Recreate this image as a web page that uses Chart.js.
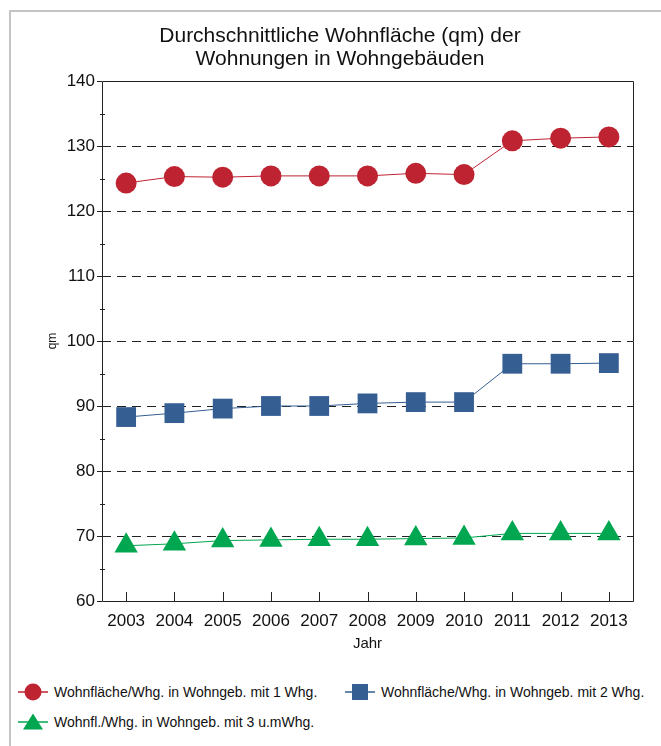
<!DOCTYPE html>
<html>
<head>
<meta charset="utf-8">
<script src="https://cdn.jsdelivr.net/npm/chart.js@4.4.1/dist/chart.umd.min.js"></script>
<style>
  html, body { margin: 0; padding: 0; background: #fff; width: 661px; height: 746px; overflow: hidden; font-family: "Liberation Sans", Arial, sans-serif; }
  #frame { position: absolute; left: 9px; top: 10px; width: 700px; height: 800px; border-left: 2px solid #c4c4c4; border-top: 2px solid #c4c4c4; box-sizing: border-box; }
  #wrap { position: absolute; left: 0; top: 0; width: 661px; height: 660px; }
  #title { position: absolute; left: 140px; width: 400px; top: 23px; text-align: center; font-size: 21px; line-height: 23px; color: #111; }
  .leg { position: absolute; display: flex; align-items: center; font-size: 14px; color: #111; white-space: nowrap; height: 20px; }
  .leg svg { margin-right: 6px; }
</style>
</head>
<body>
<div id="frame"></div>
<div id="wrap"><canvas id="c"></canvas></div>
<div id="title"></div>
<div id="legend"></div>
<script>
const years = ['2003','2004','2005','2006','2007','2008','2009','2010','2011','2012','2013'];
const seriesNames = [
  'Wohnfläche/Whg. in Wohngeb. mit 1 Whg.',
  'Wohnfläche/Whg. in Wohngeb. mit 2 Whg.',
  'Wohnfl./Whg. in Wohngeb. mit 3 u.mWhg.'
];
const oneFamily   = [124.3, 125.3, 125.2, 125.4, 125.4, 125.4, 125.8, 125.6, 130.8, 131.2, 131.4];
const twoFamily   = [88.3, 88.9, 89.6, 90.0, 90.0, 90.4, 90.6, 90.6, 96.5, 96.5, 96.6];
const multiFamily = [68.5, 68.8, 69.3, 69.4, 69.5, 69.5, 69.6, 69.7, 70.4, 70.4, 70.4];
const yTicks = [60, 70, 80, 90, 100, 110, 120, 130, 140];
const yMinorTicks = [65, 75, 85, 95, 105, 115, 125, 135];

const colors = ['#BE2331', '#355E92', '#00A650'];
const styles = ['circle', 'rect', 'triangle'];
const radii = [10.5, 14, 13.5];

const titleLines = ['Durchschnittliche Wohnfläche (qm) der', 'Wohnungen in Wohngebäuden'];
document.getElementById('title').innerHTML = titleLines.map(t => `<div>${t}</div>`).join('');

const FONT = '"Liberation Sans", Arial, sans-serif';

const axisExtras = {
  id: 'axisExtras',
  afterDatasetsDraw(chart) {
    const {ctx, chartArea: a, scales: {x, y}} = chart;
    ctx.save();
    ctx.strokeStyle = '#222';
    ctx.lineWidth = 1;
    ctx.beginPath();
    ctx.rect(Math.round(a.left) + 0.5, Math.round(a.top) + 0.5, Math.round(a.right - a.left), Math.round(a.bottom - a.top));
    ctx.stroke();
    ctx.beginPath();
    yMinorTicks.forEach(v => {
      const py = Math.round(y.getPixelForValue(v)) + 0.5;
      ctx.moveTo(a.left - 2, py);
      ctx.lineTo(a.left + 3, py);
    });
    years.forEach((yr, i) => {
      const px = Math.round(x.getPixelForValue(i)) + 0.5;
      ctx.moveTo(px, a.bottom - 9);
      ctx.lineTo(px, a.bottom);
    });
    ctx.stroke();
    ctx.restore();
  }
};

new Chart(document.getElementById('c'), {
  type: 'line',
  data: {
    labels: years,
    datasets: [oneFamily, twoFamily, multiFamily].map((d, i) => ({
      label: seriesNames[i],
      data: d,
      borderColor: colors[i],
      backgroundColor: colors[i],
      borderWidth: 1,
      pointStyle: styles[i],
      pointRadius: radii[i],
      pointHoverRadius: radii[i],
      pointBorderWidth: 0,
      pointBackgroundColor: colors[i],
      tension: 0,
      fill: false
    }))
  },
  plugins: [axisExtras],
  options: {
    responsive: true,
    maintainAspectRatio: false,
    animation: false,
    events: [],
    layout: { padding: { left: 0, right: 28, top: 81, bottom: 0 } },
    plugins: {
      legend: { display: false },
      tooltip: { enabled: false },
      title: { display: false }
    },
    scales: {
      x: {
        type: 'category',
        offset: true,
        grid: { display: false, drawOnChartArea: false, drawTicks: false },
        border: { display: false },
        ticks: { color: '#111', font: { family: FONT, size: 17 }, padding: 10, maxRotation: 0, autoSkip: false },
        title: { display: true, text: 'Jahr', color: '#111', font: { family: FONT, size: 15 }, padding: { top: 0, bottom: 7 } },
        afterFit(s) { s.height = 59; }
      },
      y: {
        min: 60,
        max: 140,
        afterBuildTicks(s) { s.ticks = yTicks.map(v => ({ value: v })); },
        grid: {
          color: ctx => (ctx.tick && (ctx.tick.value === 60 || ctx.tick.value === 140)) ? 'rgba(0,0,0,0)' : '#222',
          lineWidth: 1,
          drawTicks: true,
          tickLength: 5,
          tickColor: '#222',
          tickBorderDash: []
        },
        border: { display: false, dash: [9, 6] },
        ticks: { color: '#111', font: { family: FONT, size: 17 }, padding: 2 },
        title: { display: true, text: 'qm', color: '#111', font: { family: FONT, size: 12 }, padding: { top: 45, bottom: 0 } },
        afterFit(s) { s.width = 102; }
      }
    }
  }
});

const legendPos = [
  { left: 18, top: 682 },
  { left: 345, top: 682 },
  { left: 18, top: 712 }
];
const legend = document.getElementById('legend');
seriesNames.forEach((name, i) => {
  const c = colors[i];
  let marker = '';
  if (i === 0) marker = `<circle cx="15" cy="10" r="8.5" fill="${c}"/>`;
  if (i === 1) marker = `<rect x="7" y="2" width="16" height="16" fill="${c}"/>`;
  if (i === 2) marker = `<polygon points="15,1.5 25,17.5 5,17.5" fill="${c}"/>`;
  const el = document.createElement('div');
  el.className = 'leg';
  el.style.left = legendPos[i].left + 'px';
  el.style.top = legendPos[i].top + 'px';
  el.innerHTML = `<svg width="30" height="20" viewBox="0 0 30 20"><line x1="0" y1="10" x2="30" y2="10" stroke="${c}" stroke-width="1.5"/>${marker}</svg><span>${name}</span>`;
  legend.appendChild(el);
});
</script>
</body>
</html>
